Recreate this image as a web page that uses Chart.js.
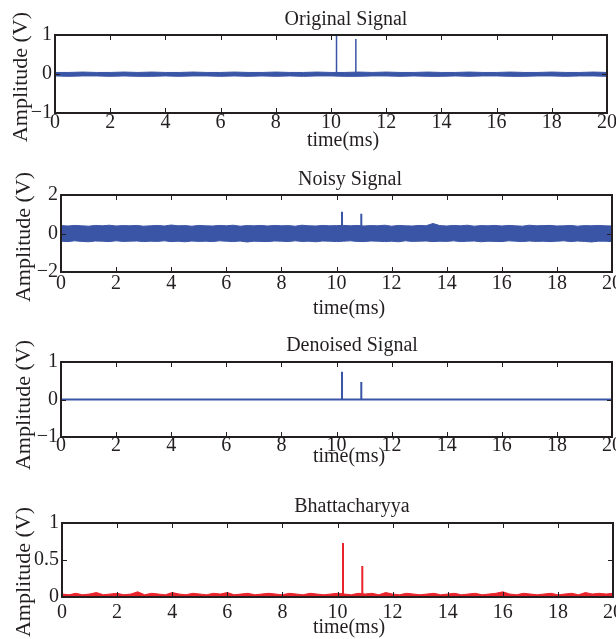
<!DOCTYPE html>
<html>
<head>
<meta charset="utf-8">
<script src="https://cdn.jsdelivr.net/npm/chart.js@4.4.1/dist/chart.umd.min.js"></script>
<style>
  body { margin: 0; background: #fff; }
  #wrap { position: relative; width: 616px; height: 639px; }
  #wrap canvas { position: absolute; left: 0; }
</style>
</head>
<body>
<div id="wrap">
  <canvas id="c1" width="616" height="160" style="top:0px"></canvas>
  <canvas id="c2" width="616" height="160" style="top:160px"></canvas>
  <canvas id="c3" width="616" height="160" style="top:320px"></canvas>
  <canvas id="c4" width="616" height="159" style="top:480px"></canvas>
</div>
<script>
// --- data ---
const xTicks = [0, 2, 4, 6, 8, 10, 12, 14, 16, 18, 20];
const spikeTimes = [10.2, 10.9];

// Original signal: thin noise envelope every 0.5 ms + two pulses
const origUpper = [0.04,0.04,0.05,0.04,0.04,0.05,0.04,0.05,0.04,0.04, 0.05,0.04,0.04,0.05,0.04,0.04,0.05,0.04,0.04,0.05,
                   0.04,0.04,0.05,0.04,0.05,0.04,0.04,0.05,0.04,0.04, 0.05,0.04,0.04,0.05,0.04,0.04,0.05,0.04,0.04,0.05, 0.04];
const origLower = [-0.05,-0.06,-0.05,-0.05,-0.06,-0.05,-0.06,-0.06,-0.05,-0.06, -0.05,-0.05,-0.06,-0.05,-0.06,-0.05,-0.06,-0.05,-0.06,-0.05,
                   -0.05,-0.06,-0.06,-0.05,-0.05,-0.06,-0.05,-0.06,-0.06,-0.05, -0.06,-0.05,-0.05,-0.06,-0.06,-0.05,-0.05,-0.06,-0.05,-0.05, -0.06];
const origPeaks = [1.0, 0.9];

// Noisy signal: envelope every 0.25 ms
const noisyUpper = [0.41,0.39,0.42,0.40,0.38,0.42,0.40,0.43,0.39,0.41, 0.40,0.42,0.38,0.40,0.42,0.39,0.44,0.40,0.41,0.38,
                    0.42,0.40,0.39,0.42,0.40,0.43,0.38,0.41,0.40,0.42, 0.39,0.42,0.40,0.41,0.38,0.43,0.40,0.39,0.42,0.40,
                    0.41,0.42,0.40,0.42,0.39,0.41,0.40,0.43,0.38,0.42, 0.40,0.39,0.42,0.40,0.52,0.41,0.39,0.42,0.40,0.43,
                    0.38,0.41,0.40,0.42,0.39,0.42,0.40,0.38,0.43,0.40, 0.41,0.42,0.39,0.40,0.42,0.38,0.41,0.40,0.42,0.40, 0.39];
const noisyLower = [-0.40,-0.42,-0.38,-0.41,-0.43,-0.39,-0.40,-0.42,-0.38,-0.41, -0.40,-0.39,-0.42,-0.40,-0.41,-0.38,-0.42,-0.40,-0.43,-0.39,
                    -0.41,-0.40,-0.42,-0.38,-0.40,-0.42,-0.39,-0.44,-0.40,-0.41, -0.42,-0.39,-0.40,-0.42,-0.38,-0.41,-0.40,-0.43,-0.39,-0.40,
                    -0.42,-0.40,-0.38,-0.41,-0.42,-0.39,-0.40,-0.42,-0.40,-0.43, -0.38,-0.41,-0.40,-0.39,-0.42,-0.40,-0.41,-0.38,-0.42,-0.40,
                    -0.39,-0.43,-0.40,-0.41,-0.42,-0.38,-0.40,-0.42,-0.39,-0.41, -0.40,-0.42,-0.40,-0.38,-0.42,-0.39,-0.41,-0.44,-0.40,-0.40, -0.42];
const noisyPeaks = [1.13, 1.03];

// Denoised signal: baseline every 0.5 ms
const denoised = [0,0,0,0,0,0,0,0,0,0, 0,0,0,0,0,0,0,0,0,0,
                  0,0,0,0,0,0,0,0,0,0, 0,0,0,0,0,0,0,0,0,0, 0];
const denoisedPeaks = [0.74, 0.47];

// Bhattacharyya: upper envelope every 0.25 ms (lower edge is 0)
const bhattUpper = [0.04,0.03,0.05,0.03,0.04,0.06,0.03,0.04,0.05,0.03, 0.04,0.07,0.03,0.05,0.04,0.03,0.06,0.04,0.03,0.05,
                    0.04,0.03,0.05,0.04,0.06,0.03,0.04,0.05,0.03,0.04, 0.05,0.04,0.03,0.05,0.04,0.03,0.05,0.04,0.03,0.04,
                    0.05,0.04,0.03,0.05,0.04,0.05,0.03,0.06,0.04,0.03, 0.05,0.04,0.03,0.04,0.05,0.03,0.04,0.05,0.03,0.04,
                    0.05,0.03,0.04,0.05,0.07,0.04,0.03,0.05,0.04,0.03, 0.04,0.05,0.03,0.04,0.05,0.03,0.06,0.04,0.05,0.04, 0.05];
const bhattPeaks = [0.73, 0.42];

// --- styling ---
const BLUE = '#3a55a5';
const RED = '#e8232b';
const INK = '#231f20';
const SERIF = '"Liberation Serif", "Times New Roman", serif';
const W = 616;

function pts(values, step) {
  return values.map((v, i) => ({ x: i * step, y: v }));
}

function spikePts(peaks) {
  const out = [];
  spikeTimes.forEach((t, i) => {
    out.push({ x: t, y: 0 }, { x: t, y: peaks[i] }, { x: t, y: 0 }, { x: t, y: null });
  });
  return out;
}

function minusSign(v) {
  return v < 0 ? '\u2212' + Math.abs(v) : String(v);
}

// Draws box, inward MATLAB-style ticks, title and axis labels
const framePlugin = {
  id: 'frame',
  afterDatasetsDraw(chart, args, opts) {
    const { ctx, chartArea: a, scales: { x, y } } = chart;
    ctx.save();
    ctx.strokeStyle = INK;
    ctx.lineWidth = 1;
    ctx.beginPath();
    x.ticks.forEach(t => {
      const px = Math.round(x.getPixelForValue(t.value)) + 0.5;
      ctx.moveTo(px, a.top); ctx.lineTo(px, a.top + 5);
      ctx.moveTo(px, a.bottom); ctx.lineTo(px, a.bottom - 5);
    });
    y.ticks.forEach(t => {
      const py = Math.round(y.getPixelForValue(t.value)) + 0.5;
      ctx.moveTo(a.left, py); ctx.lineTo(a.left + 5, py);
      ctx.moveTo(a.right, py); ctx.lineTo(a.right - 5, py);
    });
    ctx.stroke();
    ctx.lineWidth = 2;
    ctx.strokeRect(a.left, a.top, a.right - a.left, a.bottom - a.top);

    ctx.fillStyle = INK;
    ctx.textAlign = 'center';
    ctx.textBaseline = 'alphabetic';
    ctx.font = '20px ' + SERIF;
    ctx.fillText(opts.title, opts.titleAt[0], opts.titleAt[1]);
    ctx.fillText('time(ms)', opts.xlabAt[0], opts.xlabAt[1]);
    ctx.translate(opts.ylabAt[0], opts.ylabAt[1]);
    ctx.rotate(-Math.PI / 2);
    ctx.font = '22px ' + SERIF;
    ctx.fillText('Amplitude (V)', 0, 0);
    ctx.restore();
  }
};

const panels = [
  {
    id: 'c1', h: 160, area: { l: 55, t: 35, r: 607, b: 113 },
    title: 'Original Signal', titleAt: [346, 25], xlabAt: [343, 146], ylabAt: [27, 77], tickPad: -2,
    y: { min: -1, max: 1, step: 1 },
    datasets: [
      { data: pts(origUpper, 0.5), color: BLUE, fill: '+1', width: 1 },
      { data: pts(origLower, 0.5), color: BLUE, fill: false, width: 1 },
      { data: spikePts(origPeaks), color: BLUE, fill: false, width: 1.5 }
    ]
  },
  {
    id: 'c2', h: 160, area: { l: 61, t: 35, r: 612, b: 112 },
    title: 'Noisy Signal', titleAt: [350, 25], xlabAt: [349, 154], ylabAt: [30, 77], tickPad: 0,
    y: { min: -2, max: 2, step: 2 },
    datasets: [
      { data: pts(noisyUpper, 0.25), color: BLUE, fill: '+1', width: 1 },
      { data: pts(noisyLower, 0.25), color: BLUE, fill: false, width: 1 },
      { data: spikePts(noisyPeaks), color: BLUE, fill: false, width: 2 }
    ]
  },
  {
    id: 'c3', h: 160, area: { l: 61, t: 42, r: 612, b: 117 },
    title: 'Denoised Signal', titleAt: [352, 31], xlabAt: [349, 142], ylabAt: [30, 85], tickPad: -3,
    y: { min: -1, max: 1, step: 1 },
    datasets: [
      { data: pts(denoised, 0.5), color: BLUE, fill: false, width: 2 },
      { data: spikePts(denoisedPeaks), color: BLUE, fill: false, width: 2 }
    ]
  },
  {
    id: 'c4', h: 159, area: { l: 62, t: 43, r: 613, b: 117 },
    title: 'Bhattacharyya', titleAt: [352, 32], xlabAt: [349, 153], ylabAt: [30, 92], tickPad: 4,
    y: { min: 0, max: 1, step: 0.5 },
    datasets: [
      { data: pts(bhattUpper, 0.25), color: RED, fill: 'origin', width: 1 },
      { data: spikePts(bhattPeaks), color: RED, fill: false, width: 2 }
    ]
  }
];

const tickFont = { family: SERIF, size: 20, lineHeight: 1.2 };

panels.forEach(p => {
  const a = p.area;
  new Chart(document.getElementById(p.id), {
    type: 'line',
    data: {
      datasets: p.datasets.map(d => ({
        data: d.data,
        borderColor: d.color,
        backgroundColor: d.color,
        borderWidth: d.width,
        fill: d.fill,
        pointRadius: 0,
        tension: 0,
        spanGaps: false
      }))
    },
    options: {
      responsive: false,
      animation: false,
      layout: { padding: { left: 0, top: a.t, right: W - a.r, bottom: 0 } },
      plugins: {
        legend: { display: false },
        tooltip: { enabled: false },
        frame: { title: p.title, titleAt: p.titleAt, xlabAt: p.xlabAt, ylabAt: p.ylabAt }
      },
      scales: {
        x: {
          type: 'linear', min: 0, max: 20,
          afterBuildTicks: s => { s.ticks = xTicks.map(v => ({ value: v })); },
          ticks: { color: INK, font: tickFont, padding: p.tickPad, maxRotation: 0, autoSkip: false },
          grid: { display: false, drawTicks: false },
          border: { display: false },
          afterFit: s => { s.height = p.h - a.b; s.paddingLeft = 0; s.paddingRight = 0; }
        },
        y: {
          min: p.y.min, max: p.y.max,
          ticks: { stepSize: p.y.step, color: INK, font: tickFont, padding: 3, callback: minusSign },
          grid: { display: false, drawTicks: false },
          border: { display: false },
          afterFit: s => { s.width = a.l; s.paddingTop = 0; s.paddingBottom = 0; }
        }
      }
    },
    plugins: [framePlugin]
  });
});
</script>
</body>
</html>
